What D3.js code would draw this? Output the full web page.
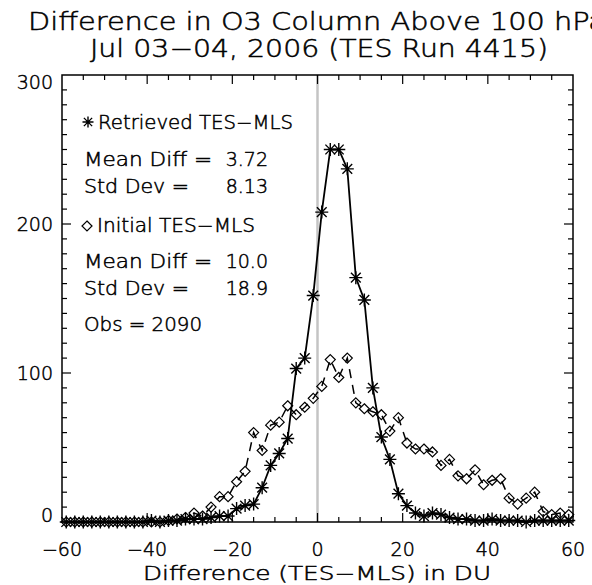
<!DOCTYPE html>
<html><head><meta charset="utf-8">
<script src="https://cdn.jsdelivr.net/npm/d3@7"></script>
<style>body{margin:0;background:#fff}svg text{font-family:"DejaVu Sans",sans-serif;font-weight:200;fill:#000;stroke:#000;stroke-width:0.5px}</style>
</head><body><div id="c"></div>
<script>
// ---- data ----
const binCenters = [-59,-57,-55,-53,-51,-49,-47,-45,-43,-41,-39,-37,-35,-33,-31,-29,-27,-25,-23,-21,
  -19,-17,-15,-13,-11,-9,-7,-5,-3,-1,1,3,5,7,9,11,13,15,17,19,
  21,23,25,27,29,31,33,35,37,39,41,43,45,47,49,51,53,55,57,59];
const retrieved = [0,0,0,0,0,0,0,0,0,0,1,0,1,1,2,2,2,3,4,4,
  9,11,12,23,38,46,56,103,110,152,208,250,250,237,164,149,90,57,42,19,
  11,6,4,6,5,3,2,2,1,1,2,1,1,1,0,1,1,1,1,1];
const initial = [0,0,0,0,0,0,0,0,0,0,0,0,1,2,3,6,4,10,17,17,
  27,34,60,48,65,67,78,72,77,83,91,109,97,110,80,76,74,72,61,70,
  53,49,49,47,38,42,31,29,35,25,28,29,16,12,16,20,7,5,6,5];
const xTicks = [-60,-40,-20,0,20,40,60];
const yTicks = [0,100,200,300];
const titleLines = ["Difference in O3 Column Above 100 hPa","Jul 03\u221204, 2006 (TES Run 4415)"];
const xTitle = "Difference (TES\u2212MLS) in DU";
const stats = {retMean:"3.72", retStd:"8.13", iniMean:"10.0", iniStd:"18.9", obs:"2090"};

const W=592,H=585;
const svg=d3.select("#c").append("svg").attr("width",W).attr("height",H);
const x=d3.scaleLinear().domain([-60,60]).range([62,573]);
const y=d3.scaleLinear().domain([0,300]).range([522,75]);

// titles
svg.append("text").attr("x",317).attr("y",30).attr("text-anchor","middle").attr("font-size",24)
  .attr("textLength",578).attr("lengthAdjust","spacingAndGlyphs").text(titleLines[0]);
svg.append("text").attr("x",319).attr("y",57).attr("text-anchor","middle").attr("font-size",24)
  .attr("textLength",458).attr("lengthAdjust","spacingAndGlyphs").text(titleLines[1]);

// zero line
svg.append("line").attr("x1",x(0)).attr("x2",x(0)).attr("y1",y(0)).attr("y2",y(300))
  .attr("stroke","#c4c4c4").attr("stroke-width",2.5);

// frame
svg.append("rect").attr("x",x(-60)).attr("y",y(300)).attr("width",x(60)-x(-60)).attr("height",y(0)-y(300))
  .attr("fill","none").attr("stroke","#000").attr("stroke-width",1.5);

// ticks
const g=svg.append("g").attr("stroke","#000").attr("stroke-width",1.2);
d3.range(-60,61,5).forEach(v=>{
  const L = v%20===0?9:5;
  if(v===-60||v===60) return;
  g.append("line").attr("x1",x(v)).attr("x2",x(v)).attr("y1",y(0)).attr("y2",y(0)-L);
  g.append("line").attr("x1",x(v)).attr("x2",x(v)).attr("y1",y(300)).attr("y2",y(300)+L);
});
d3.range(0,301,10).forEach(v=>{
  const L = v%100===0?9:5;
  if(v===0||v===300) return;
  g.append("line").attr("y1",y(v)).attr("y2",y(v)).attr("x1",x(-60)).attr("x2",x(-60)+L);
  g.append("line").attr("y1",y(v)).attr("y2",y(v)).attr("x1",x(60)).attr("x2",x(60)-L);
});

// tick labels
const fmt=v=>(v<0?"\u2212":"")+Math.abs(v);
xTicks.forEach(v=>{
  svg.append("text").attr("x",x(v)).attr("y",556).attr("text-anchor","middle").attr("font-size",19).text(fmt(v));
});
yTicks.forEach(v=>{
  let yy=y(v)+7;
  if(v===0) yy=y(0);
  if(v===300) yy=y(300)+14;
  svg.append("text").attr("x",53).attr("y",yy).attr("text-anchor","end").attr("font-size",19).text(fmt(v));
});
svg.append("text").attr("x",317).attr("y",580).attr("text-anchor","middle").attr("font-size",19)
  .attr("textLength",348).attr("lengthAdjust","spacingAndGlyphs").text(xTitle);

// lines
const pts=(arr)=>binCenters.map((b,i)=>[b,arr[i]]);
const line=d3.line().x(d=>x(d[0])).y(d=>y(d[1]));
svg.append("path").attr("d",line(pts(initial))).attr("fill","none").attr("stroke","#000")
  .attr("stroke-width",1.5).attr("stroke-dasharray","9,7");
svg.append("path").attr("d",line(pts(retrieved))).attr("fill","none").attr("stroke","#000")
  .attr("stroke-width",1.8);

function star(sel,cx,cy,r){
  const p=`M${cx-r},${cy}L${cx+r},${cy}M${cx},${cy-r}L${cx},${cy+r}M${cx-r*0.75},${cy-r*0.75}L${cx+r*0.75},${cy+r*0.75}M${cx-r*0.75},${cy+r*0.75}L${cx+r*0.75},${cy-r*0.75}`;
  sel.append("path").attr("d",p).attr("stroke","#000").attr("stroke-width",1.4).attr("fill","none");
}
function diamond(sel,cx,cy,r){
  sel.append("path").attr("d",`M${cx},${cy-r}L${cx+r},${cy}L${cx},${cy+r}L${cx-r},${cy}Z`)
    .attr("stroke","#000").attr("stroke-width",1.2).attr("fill","none");
}
const mg=svg.append("g");
pts(initial).forEach(d=>diamond(mg,x(d[0]),y(d[1]),5));
pts(retrieved).forEach(d=>star(mg,x(d[0]),y(d[1]),6.5));

// legend
star(svg,88,122,5.5);
svg.append("text").attr("x",98).attr("y",129).attr("font-size",19).attr("textLength",195).attr("lengthAdjust","spacingAndGlyphs").text("Retrieved TES\u2212MLS");
svg.append("text").attr("x",84).attr("y",166).attr("font-size",19).attr("textLength",128).attr("lengthAdjust","spacingAndGlyphs").text("Mean Diff =");
svg.append("text").attr("x",268).attr("y",166).attr("font-size",19).attr("text-anchor","end").text(stats.retMean);
svg.append("text").attr("x",84).attr("y",193).attr("font-size",19).attr("textLength",105).attr("lengthAdjust","spacingAndGlyphs").text("Std Dev =");
svg.append("text").attr("x",268).attr("y",193).attr("font-size",19).attr("text-anchor","end").text(stats.retStd);
diamond(svg,87,226,5);
svg.append("text").attr("x",97).attr("y",232).attr("font-size",19).attr("textLength",158).attr("lengthAdjust","spacingAndGlyphs").text("Initial TES\u2212MLS");
svg.append("text").attr("x",84).attr("y",268).attr("font-size",19).attr("textLength",128).attr("lengthAdjust","spacingAndGlyphs").text("Mean Diff =");
svg.append("text").attr("x",268).attr("y",268).attr("font-size",19).attr("text-anchor","end").text(stats.iniMean);
svg.append("text").attr("x",84).attr("y",295).attr("font-size",19).attr("textLength",105).attr("lengthAdjust","spacingAndGlyphs").text("Std Dev =");
svg.append("text").attr("x",268).attr("y",295).attr("font-size",19).attr("text-anchor","end").text(stats.iniStd);
svg.append("text").attr("x",84).attr("y",331).attr("font-size",19).attr("textLength",118).attr("lengthAdjust","spacingAndGlyphs").text("Obs = "+stats.obs);
</script></body></html>
